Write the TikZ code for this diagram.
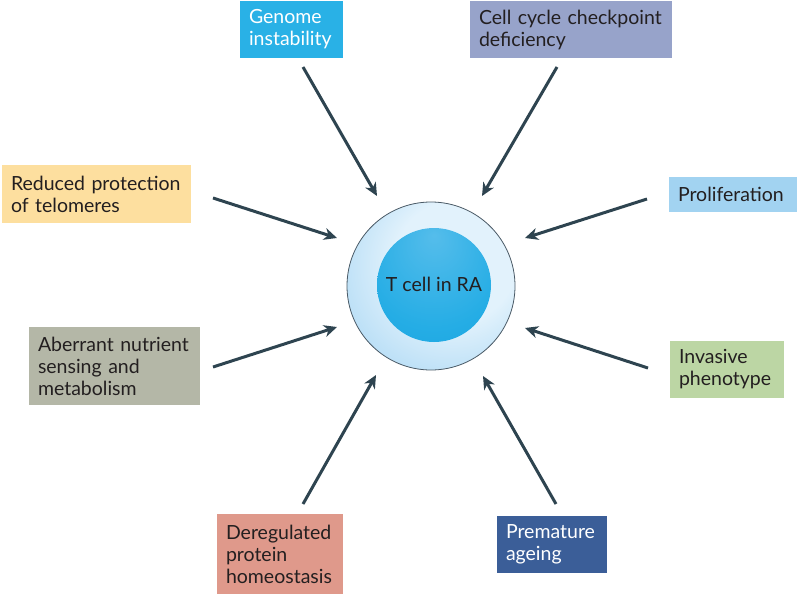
\documentclass[tikz,border=0pt]{standalone}
\usepackage{fontspec}
\setmainfont{Lato}
\usetikzlibrary{arrows.meta}
\definecolor{cGen}{HTML}{29B1E6}
\definecolor{cCyc}{HTML}{97A3CA}
\definecolor{cTel}{HTML}{FDDF9F}
\definecolor{cPro}{HTML}{A2D3F1}
\definecolor{cNut}{HTML}{B4B7A7}
\definecolor{cInv}{HTML}{BCD6A4}
\definecolor{cDer}{HTML}{DF998B}
\definecolor{cAge}{HTML}{3B5E98}
\definecolor{cArr}{HTML}{2E4450}
\definecolor{cTxt}{HTML}{231F20}
\definecolor{cRing}{HTML}{4A5A66}
\definecolor{ringA}{HTML}{E2F2FC}
\definecolor{ringB}{HTML}{B8DEF6}
\definecolor{ringC}{HTML}{98CEF0}
\definecolor{nucA}{HTML}{55BDEB}
\definecolor{nucB}{HTML}{25ADE5}
\definecolor{nucC}{HTML}{0E9CDA}
\pgfdeclareradialshading{ringshade}{\pgfpoint{10bp}{10bp}}{color(0bp)=(ringA); color(18bp)=(ringA); color(34bp)=(ringB); color(50bp)=(ringC); color(70bp)=(ringC)}
\pgfdeclareradialshading{nucshade}{\pgfpoint{0bp}{22bp}}{color(0bp)=(nucA); color(30bp)=(nucB); color(60bp)=(nucC)}
\begin{document}
\begin{tikzpicture}[x=1pt,y=-1pt,
  factor/.style={rectangle, inner sep=0pt, align=left, text=cTxt,
    font=\fontsize{19.5}{22}\selectfont, anchor=center},
  arr/.style={draw=cArr, line width=3pt, -{Stealth[length=13pt,width=12pt,inset=4pt]}}]
\useasboundingbox (0,0) rectangle (800,597);
% factor boxes
\node[factor, fill=cGen, text=white, minimum width=103pt, minimum height=57pt, text width=85pt] (gen) at (291.5,29.5) {Genome\\instability};
\node[factor, fill=cCyc, minimum width=202pt, minimum height=57pt, text width=184pt] (cyc) at (571,29.5) {Cell cycle checkpoint\\deficiency};
\node[factor, fill=cTel, minimum width=189pt, minimum height=58pt, text width=171pt] (tel) at (96.5,194) {Reduced protection\\of telomeres};
\node[factor, fill=cPro, minimum width=128pt, minimum height=35pt, text width=110pt] (pro) at (733,194.5) {Proliferation};
\node[factor, fill=cNut, minimum width=171pt, minimum height=78pt, text width=153pt] (nut) at (114.5,366) {Aberrant nutrient\\sensing and\\metabolism};
\node[factor, fill=cInv, minimum width=114pt, minimum height=57pt, text width=96pt] (inv) at (727,369.5) {Invasive\\phenotype};
\node[factor, fill=cDer, minimum width=126pt, minimum height=80pt, text width=108pt] (der) at (280,554) {Deregulated\\protein\\homeostasis};
\node[factor, fill=cAge, text=white, minimum width=110pt, minimum height=57pt, text width=92pt] (age) at (552,544.5) {Premature\\ageing};
% cell
\path[shading=ringshade] (431,286) circle[radius=84pt];
\draw[cRing, line width=0.8pt] (431,286) circle[radius=84pt];
\path[shading=nucshade] (434,285) circle[radius=57pt];
\node[font=\fontsize{19.5}{22}\selectfont, text=cTxt] (cell) at (434,284) {T cell in RA};
% arrow end points
\coordinate (s1) at (303,67);  \coordinate (e1) at (377,196);
\coordinate (s2) at (557,67);  \coordinate (e2) at (482,196);
\coordinate (s3) at (213,198); \coordinate (e3) at (337,238);
\coordinate (s4) at (647,199); \coordinate (e4) at (525,238);
\coordinate (s5) at (213,367); \coordinate (e5) at (337,327);
\coordinate (s6) at (648,368); \coordinate (e6) at (525,328);
\coordinate (s7) at (303,504); \coordinate (e7) at (376,375);
\coordinate (s8) at (556,504); \coordinate (e8) at (483,376);
\foreach \i in {1,...,8} {\draw[arr] (s\i) -- (e\i);}
\end{tikzpicture}
\end{document}
